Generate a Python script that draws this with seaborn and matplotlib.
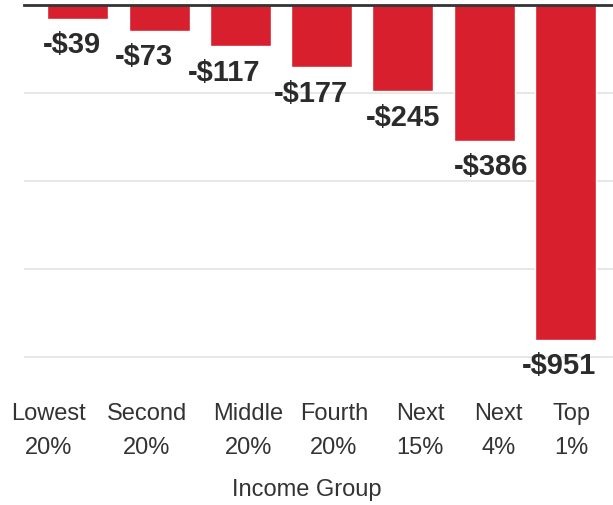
import numpy as np
import pandas as pd
import matplotlib
matplotlib.use('Agg')
import matplotlib.pyplot as plt
import seaborn as sns

# chart data
groups = ['Lowest\n20%', 'Second\n20%', 'Middle\n20%', 'Fourth\n20%', 'Next\n15%', 'Next\n4%', 'Top\n1%']
change = [-39, -73, -117, -177, -245, -386, -951]
value_labels = ['-$39', '-$73', '-$117', '-$177', '-$245', '-$386', '-$951']

# the labels in the original are not centred under the bars, nudge them
value_dx = [-4, -11, -12, -8, 0, 5, -5]              # points
group_dx = [-0.36, -0.15, 0.10, 0.15, 0.21, 0.18, 0.07]  # category units

df = pd.DataFrame({'group': groups, 'change': change})

sns.set_theme(style='white')
plt.rcParams['font.family'] = ['Liberation Sans', 'DejaVu Sans']

fig = plt.figure(figsize=(6.13, 5.05), dpi=100)
ax = fig.add_axes([0.039, 0.23, 0.961, 0.76])

sns.barplot(data=df, x='group', y='change', color='#D71F2E', saturation=1,
            width=0.75, ax=ax)

ax.set_ylim(-1090, 0)
ax.set_xlim(-0.665, 6.585)
ax.set_yticks([-1000, -750, -500, -250])
ax.yaxis.grid(True, color='#e3e3e3', linewidth=1.2)
ax.set_axisbelow(True)
ax.tick_params(axis='y', left=False, labelleft=False)
ax.tick_params(axis='x', bottom=False, labelbottom=False)
for s in ['left', 'right', 'bottom']:
    ax.spines[s].set_visible(False)
ax.spines['top'].set_color('#333333')
ax.spines['top'].set_linewidth(2)

# category labels drawn as text so they can sit where the original has them
for i, g in enumerate(groups):
    ax.annotate(g, xy=(i + group_dx[i], 0), xycoords=('data', 'axes fraction'),
                xytext=(0, -10), textcoords='offset points',
                ha='center', va='top', fontsize=17, color='#333333',
                linespacing=1.75)

ax.set_ylabel('')
ax.set_xlabel('Income Group', fontsize=17, color='#333333')
ax.xaxis.set_label_coords(0.48, -0.234)

for i, (v, t) in enumerate(zip(change, value_labels)):
    ax.annotate(t, xy=(i, v), xytext=(value_dx[i], -9), textcoords='offset points',
                ha='center', va='top', fontsize=21, fontweight='bold',
                color='#2b2b2b')

fig.savefig('out.png', dpi=100)
